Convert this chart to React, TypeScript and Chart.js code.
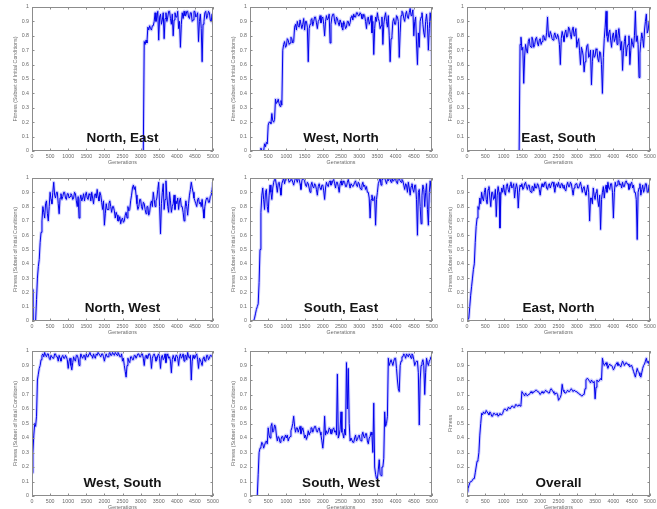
import React, { useEffect, useRef } from "react";
import { Chart, registerables } from "chart.js";

Chart.register(...registerables);

// Generations sampled every 25
const GENERATIONS = [
  0, 25, 50, 75, 100, 125, 150, 175, 200, 225, 250, 275, 300, 325, 350, 375, 400, 425, 450, 475,
  500, 525, 550, 575, 600, 625, 650, 675, 700, 725, 750, 775, 800, 825, 850, 875, 900, 925, 950, 975,
  1000, 1025, 1050, 1075, 1100, 1125, 1150, 1175, 1200, 1225, 1250, 1275, 1300, 1325, 1350, 1375, 1400, 1425, 1450, 1475,
  1500, 1525, 1550, 1575, 1600, 1625, 1650, 1675, 1700, 1725, 1750, 1775, 1800, 1825, 1850, 1875, 1900, 1925, 1950, 1975,
  2000, 2025, 2050, 2075, 2100, 2125, 2150, 2175, 2200, 2225, 2250, 2275, 2300, 2325, 2350, 2375, 2400, 2425, 2450, 2475,
  2500, 2525, 2550, 2575, 2600, 2625, 2650, 2675, 2700, 2725, 2750, 2775, 2800, 2825, 2850, 2875, 2900, 2925, 2950, 2975,
  3000, 3025, 3050, 3075, 3100, 3125, 3150, 3175, 3200, 3225, 3250, 3275, 3300, 3325, 3350, 3375, 3400, 3425, 3450, 3475,
  3500, 3525, 3550, 3575, 3600, 3625, 3650, 3675, 3700, 3725, 3750, 3775, 3800, 3825, 3850, 3875, 3900, 3925, 3950, 3975,
  4000, 4025, 4050, 4075, 4100, 4125, 4150, 4175, 4200, 4225, 4250, 4275, 4300, 4325, 4350, 4375, 4400, 4425, 4450, 4475,
  4500, 4525, 4550, 4575, 4600, 4625, 4650, 4675, 4700, 4725, 4750, 4775, 4800, 4825, 4850, 4875, 4900, 4925, 4950, 4975,
  5000,
];

const X_TICKS = [0, 500, 1000, 1500, 2000, 2500, 3000, 3500, 4000, 4500, 5000];
const Y_TICKS = [0, 0.1, 0.2, 0.3, 0.4, 0.5, 0.6, 0.7, 0.8, 0.9, 1];

const NORTH_EAST = [
  null, null, null, null, null, null, null, null, null, null, null, null, null, null, null, null, null, null, null, null,
  null, null, null, null, null, null, null, null, null, null, null, null, null, null, null, null, null, null, null, null,
  null, null, null, null, null, null, null, null, null, null, null, null, null, null, null, null, null, null, null, null,
  null, null, null, null, null, null, null, null, null, null, null, null, null, null, null, null, null, null, null, null,
  null, null, null, null, null, null, null, null, null, null, null, null, null, null, null, null, null, null, null, null,
  null, null, null, null, null, null, null, null, null, null, null, null, null, null, null, null, null, null, null, null,
  null, null, null, 0, 0.76, 0.74, 0.77, 0.75, 0.86, 0.84, 0.87, 0.85, 0.84, 0.87, 0.87, 0.9, 0.96, 0.9, 0.93, 0.97,
  0.77, 0.93, 0.95, 0.88, 0.91, 0.96, 0.78, 0.92, 0.96, 0.9, 0.93, 0.97, 0.97, 0.92, 0.88, 0.95, 0.8, 0.91, 0.96, 0.93,
  0.93, 0.97, 0.85, 0.9, 0.72, 0.88, 0.96, 0.92, 0.97, 0.94, 0.94, 0.97, 0.97, 0.93, 0.92, 0.96, 0.96, 0.9, 0.91, 0.97,
  0.97, 0.93, 0.94, 0.96, 0.76, 0.9, 0.95, 0.85, 0.62, 0.88, 0.9, 0.96, 0.97, 0.92, 0.94, 0.97, 0.96, 0.91, 0.9, 0.95,
  0.88,
];

const WEST_NORTH = [
  null, null, null, null, null, null, null, null, null, null, 0, 0, 0.02, 0, 0, 0, 0.05, 0.03, 0.06, 0.05,
  0.18, 0.2, 0.2, 0.19, 0.26, 0.21, 0.2, 0.22, 0.36, 0.33, 0.34, 0.36, 0.33, 0.31, 0.35, 0.32, 0.7, 0.74, 0.76, 0.72,
  0.73, 0.78, 0.77, 0.74, 0.75, 0.79, 0.78, 0.75, 0.76, 0.86, 0.88, 0.84, 0.9, 0.87, 0.86, 0.91, 0.91, 0.85, 0.88, 0.92,
  0.84, 0.9, 0.9, 0.86, 0.62, 0.85, 0.88, 0.91, 0.92, 0.87, 0.9, 0.93, 0.93, 0.89, 0.85, 0.9, 0.91, 0.94, 0.89, 0.92,
  0.93, 0.88, 0.8, 0.9, 0.94, 0.91, 0.92, 0.95, 0.75, 0.88, 0.93, 0.95, 0.95, 0.9, 0.88, 0.93, 0.92, 0.89, 0.87, 0.91,
  0.89, 0.86, 0.84, 0.9, 0.88, 0.85, 0.86, 0.9, 0.9, 0.87, 0.89, 0.93, 0.94, 0.91, 0.95, 0.93, 0.93, 0.96, 0.96, 0.94,
  0.94, 0.96, 0.95, 0.92, 0.92, 0.95, 0.94, 0.9, 0.85, 0.92, 0.93, 0.88, 0.9, 0.94, 0.82, 0.9, 0.67, 0.85, 0.93, 0.9,
  0.96, 0.92, 0.9, 0.85, 0.87, 0.93, 0.74, 0.88, 0.93, 0.96, 0.9, 0.86, 0.94, 0.8, 0.62, 0.78, 0.8, 0.9, 0.92, 0.88,
  0.88, 0.94, 0.93, 0.9, 0.65, 0.82, 0.94, 0.97, 0.96, 0.92, 0.9, 0.95, 0.97, 0.93, 0.92, 0.96, 0.99, 0.94, 0.95, 0.98,
  0.8, 0.9, 0.93, 0.75, 0.6, 0.82, 0.72, 0.9, 0.93, 0.96, 0.88, 0.82, 0.79, 0.9, 0.95, 0.88, 0.7, 0.85, 0.96, 0.9,
  0.6,
];

const EAST_SOUTH = [
  null, null, null, null, null, null, null, null, null, null, null, null, null, null, null, null, null, null, null, null,
  null, null, null, null, null, null, null, null, null, null, null, null, null, null, null, null, null, null, null, null,
  null, null, null, null, null, null, null, null, null, null, null, null, null, null, null, null, null, 0, 0.74, 0.79,
  0.7, 0.72, 0.47, 0.66, 0.74, 0.7, 0.68, 0.76, 0.78, 0.73, 0.72, 0.79, 0.77, 0.72, 0.74, 0.78, 0.79, 0.75, 0.73, 0.77,
  0.78, 0.74, 0.76, 0.8, 0.8, 0.77, 0.77, 0.82, 0.93, 0.8, 0.79, 0.83, 0.81, 0.78, 0.77, 0.8, 0.82, 0.79, 0.78, 0.81,
  0.79, 0.74, 0.6, 0.78, 0.83, 0.8, 0.76, 0.82, 0.84, 0.79, 0.8, 0.86, 0.85, 0.81, 0.78, 0.84, 0.86, 0.8, 0.82, 0.85,
  0.72, 0.76, 0.78, 0.7, 0.6, 0.72, 0.7, 0.66, 0.55, 0.62, 0.68, 0.73, 0.74, 0.65, 0.66, 0.7, 0.46, 0.62, 0.7, 0.65,
  0.66, 0.71, 0.7, 0.64, 0.62, 0.69, 0.68, 0.6, 0.4, 0.65, 0.78, 0.86, 0.97, 0.8, 0.76, 0.82, 0.84, 0.77, 0.72, 0.8,
  0.82, 0.76, 0.78, 0.84, 0.74, 0.8, 0.85, 0.78, 0.7, 0.76, 0.56, 0.7, 0.76, 0.8, 0.66, 0.72, 0.74, 0.8, 0.6, 0.7,
  0.78, 0.74, 0.72, 0.8, 0.97, 0.76, 0.8, 0.74, 0.51, 0.68, 0.76, 0.82, 0.78, 0.72, 0.84, 0.9, 0.95, 0.82, 0.84, 0.9,
  0.88,
];

const NORTH_WEST = [
  0.22, 0, 0, 0, 0, 0.15, 0.3, 0.38, 0.43, 0.55, 0.62, 0.7, 0.8, 0.76, 0.72, 0.82, 0.84, 0.75, 0.7, 0.8,
  0.9, 0.85, 0.82, 0.9, 0.97, 0.88, 0.86, 0.9, 0.9, 0.82, 0.75, 0.86, 0.89, 0.85, 0.87, 0.9, 0.9, 0.86, 0.85, 0.89,
  0.89, 0.86, 0.87, 0.89, 0.88, 0.85, 0.86, 0.9, 0.89, 0.84, 0.8, 0.87, 0.72, 0.85, 0.88, 0.84, 0.86, 0.89, 0.84, 0.88,
  0.9, 0.86, 0.85, 0.89, 0.88, 0.84, 0.9, 0.86, 0.82, 0.88, 0.89, 0.86, 0.92, 0.87, 0.84, 0.9, 0.88, 0.83, 0.78, 0.84,
  0.67, 0.75, 0.82, 0.78, 0.78, 0.82, 0.84, 0.8, 0.76, 0.8, 0.8, 0.77, 0.72, 0.76, 0.74, 0.7, 0.7, 0.73, 0.68, 0.71,
  0.72, 0.69, 0.7, 0.74, 0.76, 0.72, 0.8, 0.77, 0.78, 0.84, 0.88, 0.93, 0.95, 0.92, 0.94, 0.88, 0.82, 0.78, 0.8, 0.85,
  0.85, 0.8, 0.78, 0.83, 0.82, 0.78, 0.75, 0.8, 0.8, 0.74, 0.76, 0.82, 0.84, 0.8, 0.9, 0.85, 0.8, 0.84, 0.86, 0.92,
  0.97, 0.8, 0.61, 0.82, 0.9, 0.96, 0.78, 0.85, 0.98, 0.88, 0.8, 0.76, 0.9, 0.84, 0.76, 0.8, 0.82, 0.88, 0.78, 0.84,
  0.82, 0.86, 0.78, 0.84, 0.86, 0.8, 0.8, 0.76, 0.7, 0.78, 0.84, 0.8, 0.74, 0.82, 0.88, 0.92, 0.97, 0.93, 0.9, 0.86,
  0.84, 0.82, 0.8, 0.85, 0.86, 0.82, 0.83, 0.8, 0.85, 0.78, 0.72, 0.8, 0.84, 0.86, 0.86, 0.83, 0.83, 0.87, 0.88, 0.92,
  0.97,
];

const SOUTH_EAST = [
  null, null, null, null, 0, 0.02, 0.05, 0.08, 0.1, 0.12, 0.27, 0.5, 0.76, 0.88, 0.93, 0.85, 0.78, 0.9, 0.92, 0.8,
  0.76, 0.88, 0.95, 0.9, 0.85, 0.93, 0.97, 0.99, 0.99, 0.95, 0.9, 0.96, 0.97, 0.93, 0.88, 0.96, 0.98, 1, 0.96, 0.99,
  0.99, 1, 1, 0.97, 0.98, 1, 0.99, 0.97, 0.95, 0.98, 1, 0.99, 0.97, 1, 0.99, 0.96, 0.92, 0.98, 1, 0.99,
  0.98, 0.95, 0.94, 0.97, 0.96, 0.93, 0.9, 0.95, 0.97, 0.94, 0.93, 0.96, 0.95, 0.92, 0.88, 0.94, 0.96, 0.93, 0.92, 0.95,
  0.95, 0.91, 0.85, 0.93, 0.97, 0.95, 0.94, 0.97, 0.98, 0.95, 0.96, 0.98, 0.99, 0.96, 0.93, 0.97, 0.97, 0.94, 0.9, 0.96,
  0.98, 0.95, 0.96, 0.98, 0.97, 0.94, 0.94, 0.97, 0.99, 0.96, 0.93, 0.96, 0.96, 0.94, 0.95, 0.97, 0.98, 0.95, 0.94, 0.97,
  0.96, 0.93, 0.92, 0.95, 0.97, 0.94, 0.95, 0.92, 0.94, 0.9, 0.9, 0.86, 0.72, 0.85, 0.88, 0.84, 0.85, 0.87, 0.67, 0.85,
  0.9, 0.96, 0.98, 1, 0.95, 0.99, 0.99, 1, 1, 0.98, 0.96, 0.99, 0.98, 1, 0.99, 0.97, 1, 0.98, 0.98, 1,
  0.99, 0.97, 0.96, 1, 1, 0.98, 0.97, 0.99, 0.98, 0.95, 0.92, 0.96, 0.95, 0.9, 0.97, 0.93, 0.88, 0.94, 0.96, 0.92,
  0.9, 0.95, 0.95, 0.85, 0.6, 0.9, 0.92, 0.8, 0.68, 0.88, 0.95, 0.92, 0.8, 0.9, 0.96, 0.78, 0.67, 0.9, 0.98, 0.92,
  0.83,
];

const EAST_NORTH = [
  0, 0.01, 0.02, 0.1, 0.18, 0.24, 0.3, 0.36, 0.4, 0.55, 0.66, 0.72, 0.8, 0.78, 0.86, 0.82, 0.9, 0.86, 0.84, 0.9,
  0.93, 0.85, 0.82, 0.92, 0.94, 0.86, 0.8, 0.9, 0.9, 0.85, 0.86, 0.92, 0.73, 0.88, 0.94, 0.9, 0.65, 0.88, 0.93, 0.9,
  0.95, 0.9, 0.88, 0.94, 0.96, 0.92, 0.9, 0.95, 0.97, 0.93, 0.94, 0.96, 0.86, 0.92, 0.96, 0.93, 0.79, 0.9, 0.95, 0.94,
  0.96, 0.92, 0.93, 0.96, 0.97, 0.94, 0.92, 0.95, 0.95, 0.91, 0.9, 0.94, 0.94, 0.91, 0.96, 0.93, 0.93, 0.96, 0.95, 0.92,
  0.88, 0.93, 0.96, 0.94, 0.94, 0.97, 0.97, 0.93, 0.92, 0.95, 0.96, 0.93, 0.95, 0.97, 0.97, 0.94, 0.9, 0.95, 0.96, 0.94,
  0.97, 0.94, 0.93, 0.96, 0.96, 0.93, 0.95, 0.92, 0.91, 0.95, 0.97, 0.94, 0.94, 0.97, 0.96, 0.92, 0.88, 0.93, 0.95, 0.96,
  0.96, 0.93, 0.93, 0.95, 0.97, 0.94, 0.9, 0.93, 0.94, 0.9, 0.88, 0.92, 0.95, 0.9, 0.7, 0.86, 0.86, 0.82, 0.93, 0.88,
  0.85, 0.9, 0.92, 0.84, 0.8, 0.88, 0.64, 0.85, 0.9, 0.94, 0.86, 0.92, 0.95, 0.9, 0.97, 0.93, 0.92, 0.96, 0.96, 0.9,
  0.72, 0.9, 0.97, 0.94, 0.95, 0.98, 0.98, 0.95, 0.96, 0.93, 0.97, 0.94, 0.94, 0.97, 0.98, 0.96, 0.96, 0.92, 0.93, 0.96,
  0.97, 0.93, 0.95, 0.9, 0.9, 0.85, 0.57, 0.9, 0.93, 0.96, 0.88, 0.92, 0.95, 0.9, 0.92, 0.96, 0.96, 0.9, 0.9, 0.95,
  0.94,
];

const WEST_SOUTH = [
  0.16, 0.3, 0.42, 0.5, 0.48, 0.55, 0.8, 0.84, 0.88, 0.9, 0.94, 0.97, 0.98, 0.96, 0.99, 0.97, 0.96, 0.98, 0.98, 0.95,
  0.94, 0.97, 0.97, 0.95, 0.95, 0.98, 0.98, 0.96, 0.96, 0.93, 0.97, 0.95, 0.93, 0.96, 0.97, 0.95, 0.95, 0.97, 0.96, 0.94,
  0.88, 0.93, 0.95, 0.9, 0.87, 0.92, 0.96, 0.94, 0.93, 0.97, 0.97, 0.95, 0.9, 0.94, 0.98, 0.96, 0.95, 0.97, 0.97, 0.94,
  0.98, 0.96, 0.96, 0.98, 0.99, 0.97, 0.97, 0.95, 0.98, 0.96, 0.95, 0.98, 0.97, 0.99, 0.99, 0.97, 0.96, 0.98, 0.98, 0.96,
  0.93, 0.96, 0.98, 0.96, 0.96, 0.98, 0.99, 0.97, 0.97, 0.99, 0.98, 0.97, 0.99, 0.98, 0.97, 0.99, 0.98, 0.96, 0.96, 0.98,
  0.93, 0.95, 0.9, 0.86, 0.82, 0.9, 0.95, 0.93, 0.92, 0.96, 0.96, 0.94, 0.94, 0.97, 0.97, 0.95, 0.95, 0.98, 0.98, 0.96,
  0.96, 0.98, 0.98, 0.95, 0.9, 0.96, 0.97, 0.95, 0.95, 0.98, 0.98, 0.96, 0.88, 0.95, 0.97, 0.98, 0.96, 0.93, 0.94, 0.97,
  0.98, 0.95, 0.88, 0.96, 0.97, 0.94, 0.95, 0.98, 0.92, 0.96, 0.98, 0.95, 0.96, 0.93, 0.85, 0.94, 0.97, 0.95, 0.93, 0.97,
  0.97, 0.95, 0.9, 0.96, 0.98, 0.95, 0.96, 0.98, 0.93, 0.97, 0.97, 0.94, 0.99, 0.96, 0.95, 0.97, 0.8, 0.93, 0.97, 0.95,
  0.95, 0.97, 0.98, 0.94, 0.88, 0.95, 0.94, 0.92, 0.9, 0.95, 0.96, 0.93, 0.93, 0.97, 0.97, 0.94, 0.95, 0.97, 0.97, 0.96,
  0.98,
];

const SOUTH_WEST = [
  null, null, null, null, null, null, null, null, 0, 0.15, 0.3, 0.33, 0.34, 0.37, 0.36, 0.33, 0.35, 0.37, 0.38, 0.36,
  0.47, 0.42, 0.4, 0.48, 0.5, 0.44, 0.45, 0.49, 0.48, 0.42, 0.38, 0.41, 0.4, 0.37, 0.39, 0.41, 0.41, 0.38, 0.4, 0.42,
  0.4, 0.42, 0.38, 0.4, 0.41, 0.45, 0.47, 0.5, 0.55, 0.48, 0.44, 0.47, 0.47, 0.44, 0.46, 0.48, 0.43, 0.45, 0.47, 0.44,
  0.4, 0.42, 0.39, 0.41, 0.45, 0.42, 0.44, 0.47, 0.47, 0.44, 0.46, 0.48, 0.48, 0.45, 0.44, 0.46, 0.47, 0.44, 0.42, 0.38,
  0.33, 0.4, 0.55, 0.42, 0.45, 0.43, 0.44, 0.47, 0.46, 0.43, 0.43, 0.46, 0.47, 0.44, 0.45, 0.42, 0.84, 0.4, 0.42, 0.46,
  0.58, 0.44, 0.43, 0.4, 0.46, 0.42, 0.92, 0.6, 0.88, 0.5, 0.38, 0.4, 0.4, 0.37, 0.37, 0.4, 0.42, 0.38, 0.39, 0.41,
  0.42, 0.39, 0.38, 0.42, 0.44, 0.41, 0.4, 0.43, 0.43, 0.38, 0.36, 0.4, 0.41, 0.44, 0.42, 0.3, 0.64, 0.2, 0.15, 0.12,
  0.12, 0.18, 0.25, 0.15, 0.14, 0.2, 0.2, 0.26, 0.58, 0.48, 0.5, 0.55, 0.95, 0.9, 0.92, 0.94, 0.94, 0.9, 0.93, 0.95,
  0.95, 0.88, 0.8, 0.74, 0.72, 0.9, 0.93, 0.96, 0.96, 0.98, 0.97, 0.95, 0.98, 0.97, 0.96, 0.98, 0.97, 0.95, 0.98, 0.97,
  0.94, 0.9, 0.92, 0.93, 0.93, 0.85, 0.49, 0.8, 0.9, 0.92, 0.94, 0.9, 0.7, 0.85, 0.95, 0.92, 0.9, 0.93, 0.94, 0.96,
  0.92,
];

const OVERALL = [
  0.03, 0.05, 0.07, 0.09, 0.1, 0.1, 0.11, 0.12, 0.12, 0.16, 0.2, 0.24, 0.25, 0.3, 0.42, 0.5, 0.57, 0.56, 0.58, 0.57,
  0.57, 0.59, 0.58, 0.57, 0.56, 0.58, 0.57, 0.55, 0.55, 0.57, 0.57, 0.56, 0.56, 0.57, 0.55, 0.56, 0.57, 0.56, 0.56, 0.57,
  0.59, 0.6, 0.6, 0.59, 0.59, 0.61, 0.61, 0.6, 0.6, 0.62, 0.62, 0.61, 0.61, 0.63, 0.63, 0.62, 0.62, 0.63, 0.62, 0.63,
  0.72, 0.71, 0.7, 0.69, 0.71, 0.7, 0.69, 0.7, 0.7, 0.71, 0.72, 0.71, 0.71, 0.72, 0.72, 0.73, 0.73, 0.72, 0.72, 0.71,
  0.7, 0.71, 0.72, 0.71, 0.71, 0.72, 0.73, 0.72, 0.72, 0.71, 0.71, 0.73, 0.74, 0.73, 0.72, 0.71, 0.7, 0.71, 0.71, 0.7,
  0.66, 0.67, 0.68, 0.7, 0.77, 0.73, 0.72, 0.71, 0.71, 0.72, 0.73, 0.72, 0.72, 0.73, 0.74, 0.73, 0.72, 0.73, 0.73, 0.72,
  0.72, 0.71, 0.71, 0.7, 0.7, 0.69, 0.69, 0.7, 0.7, 0.74, 0.8, 0.81, 0.81, 0.8, 0.79, 0.78, 0.8, 0.79, 0.78, 0.79,
  0.67, 0.75, 0.8, 0.79, 0.79, 0.8, 0.81, 0.8, 0.95, 0.92, 0.9, 0.91, 0.92, 0.9, 0.88, 0.9, 0.91, 0.9, 0.9, 0.89,
  0.87, 0.88, 0.9, 0.91, 0.92, 0.9, 0.91, 0.9, 0.89, 0.91, 0.93, 0.92, 0.9, 0.91, 0.92, 0.91, 0.91, 0.9, 0.89, 0.9,
  0.9, 0.88, 0.86, 0.84, 0.82, 0.85, 0.88, 0.86, 0.85, 0.83, 0.82, 0.85, 0.88, 0.9, 0.91, 0.93, 0.95, 0.92, 0.93, 0.91,
  0.9,
];

const TITLES = [
  "North, East", "West, North", "East, South",
  "North, West", "South, East", "East, North",
  "West, South", "South, West", "Overall",
];
const SERIES = [
  NORTH_EAST, WEST_NORTH, EAST_SOUTH,
  NORTH_WEST, SOUTH_EAST, EAST_NORTH,
  WEST_SOUTH, SOUTH_WEST, OVERALL,
];
const Y_TITLES = [
  "Fitness (Subset of Initial Conditions)", "Fitness (Subset of Initial Conditions)", "Fitness (Subset of Initial Conditions)",
  "Fitness (Subset of Initial Conditions)", "Fitness (Subset of Initial Conditions)", "Fitness (Subset of Initial Conditions)",
  "Fitness (Subset of Initial Conditions)", "Fitness (Subset of Initial Conditions)", "Fitness",
];
const X_TITLE = "Generations";

// layout of plot areas (page pixels)
const COL_LEFT = [32, 250, 467];
const COL_RIGHT = [213, 432, 650];
const ROW_TOP = [7, 178, 351];
const ROW_BOTTOM = [151, 321, 496];

const PAD_L = 12, Y_W = 20, PAD_T = 8, PAD_R = 10, PAD_B = 3, X_H = 15;
const FONT_FAMILY = '"Liberation Sans", Arial, Helvetica, sans-serif';
const SMALL_FONT = { family: FONT_FAMILY, size: 5.3 };
const AXIS_COLOR = "#8c8c8c";
const TEXT_COLOR = "#6a6a6a";

function Panel(props: { idx: number }) {
  const { idx } = props;
  const col = idx % 3;
  const row = Math.floor(idx / 3);
  const left = COL_LEFT[col], right = COL_RIGHT[col], top = ROW_TOP[row], bottom = ROW_BOTTOM[row];
  const w = right - left + PAD_L + Y_W + PAD_R;
  const h = bottom - top + PAD_T + PAD_B + X_H;
  const ref = useRef<HTMLCanvasElement | null>(null);

  useEffect(() => {
    if (!ref.current) return;
    const values = SERIES[idx];
    const title = TITLES[idx];
    const points = GENERATIONS.map((g, i) => ({ x: g, y: values[i] }));
    const framePlugin = {
      id: "frame" + idx,
      afterDatasetsDraw(chart: any) {
        const { ctx, chartArea: a, scales } = chart;
        const xs = scales.x, ys = scales.y;
        ctx.save();
        ctx.strokeStyle = AXIS_COLOR;
        ctx.lineWidth = 1;
        ctx.strokeRect(a.left + 0.5, a.top + 0.5, a.right - a.left - 1, a.bottom - a.top - 1);
        ctx.beginPath();
        X_TICKS.forEach((v) => {
          const px = Math.round(xs.getPixelForValue(v)) + 0.5;
          ctx.moveTo(px, a.bottom);
          ctx.lineTo(px, a.bottom - 2.5);
          ctx.moveTo(px, a.top);
          ctx.lineTo(px, a.top + 2.5);
        });
        Y_TICKS.forEach((v) => {
          const py = Math.round(ys.getPixelForValue(v)) + 0.5;
          ctx.moveTo(a.left, py);
          ctx.lineTo(a.left + 2.5, py);
          ctx.moveTo(a.right, py);
          ctx.lineTo(a.right - 2.5, py);
        });
        ctx.stroke();
        ctx.fillStyle = "#151515";
        ctx.font = "bold 13.5px " + FONT_FAMILY;
        ctx.textAlign = "center";
        ctx.textBaseline = "alphabetic";
        ctx.fillText(title, (a.left + a.right) / 2, a.bottom - 9);
        ctx.restore();
      },
    };

    const chart = new Chart(ref.current, {
      type: "line",
      data: {
        datasets: [
          {
            data: points,
            borderColor: "rgb(0,0,235)",
            borderWidth: 1,
            pointRadius: 0,
            tension: 0,
            spanGaps: false,
            fill: false,
          },
          {
            data: points,
            borderColor: "rgba(80,80,255,0.3)",
            borderWidth: 3,
            borderJoinStyle: "round",
            pointRadius: 0,
            tension: 0,
            spanGaps: false,
            fill: false,
          },
        ],
      },
      options: {
        responsive: false,
        maintainAspectRatio: false,
        animation: false,
        devicePixelRatio: 1,
        layout: { padding: { left: PAD_L, top: PAD_T, right: PAD_R, bottom: PAD_B } },
        plugins: { legend: { display: false }, tooltip: { enabled: false } },
        scales: {
          x: {
            type: "linear",
            min: 0,
            max: 5000,
            afterBuildTicks: (s: any) => {
              s.ticks = X_TICKS.map((v) => ({ value: v }));
            },
            afterFit: (s: any) => {
              s.height = X_H;
            },
            grid: { display: false, drawTicks: false },
            border: { display: false },
            ticks: {
              font: SMALL_FONT, color: TEXT_COLOR, padding: 2, maxRotation: 0, autoSkip: false,
              callback: (v: any) => String(v),
            },
            title: { display: true, text: X_TITLE, font: SMALL_FONT, color: TEXT_COLOR, padding: 0 },
          },
          y: {
            type: "linear",
            min: 0,
            max: 1,
            afterBuildTicks: (s: any) => {
              s.ticks = Y_TICKS.map((v) => ({ value: v }));
            },
            afterFit: (s: any) => {
              s.width = Y_W;
            },
            grid: { display: false, drawTicks: false },
            border: { display: false },
            ticks: {
              font: SMALL_FONT, color: TEXT_COLOR, padding: 3, autoSkip: false,
              callback: (v: any) => String(v),
            },
            title: { display: true, text: Y_TITLES[idx], font: SMALL_FONT, color: TEXT_COLOR, padding: 0 },
          },
        },
      },
      plugins: [framePlugin],
    } as any);
    return () => chart.destroy();
  }, [idx]);

  return (
    <canvas
      ref={ref}
      width={w}
      height={h}
      style={{ position: "absolute", left: left - PAD_L - Y_W, top: top - PAD_T, width: w, height: h, display: "block" }}
    />
  );
}

export default function App() {
  useEffect(() => {
    document.body.style.margin = "0";
    document.body.style.background = "#ffffff";
  }, []);
  return (
    <div style={{ position: "relative", width: 657, height: 509, background: "#ffffff", overflow: "hidden" }}>
      {[0, 1, 2, 3, 4, 5, 6, 7, 8].map((i) => (
        <Panel key={i} idx={i} />
      ))}
    </div>
  );
}
